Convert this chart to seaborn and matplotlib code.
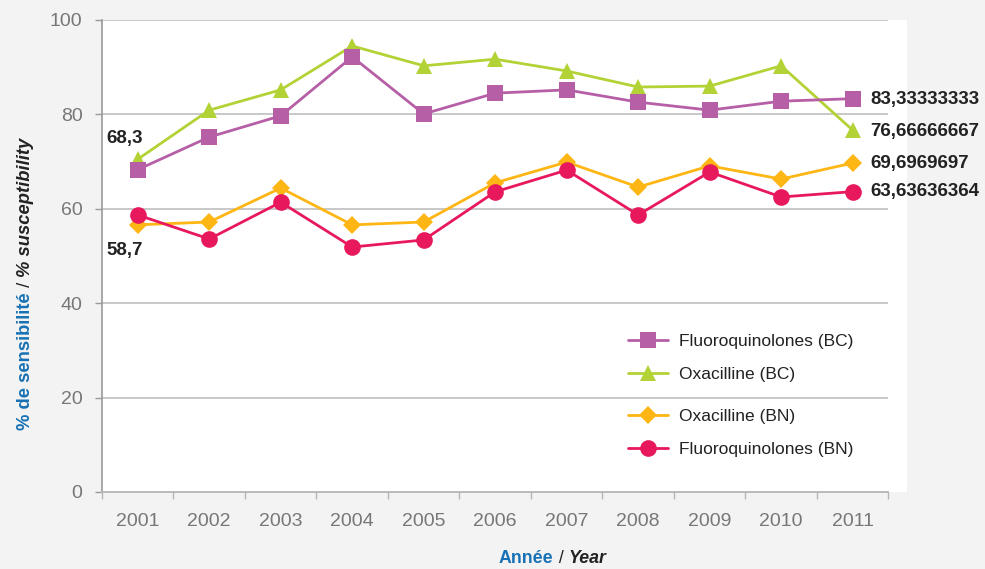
import numpy as np
import pandas as pd
import matplotlib
matplotlib.use("Agg")
import matplotlib.pyplot as plt
import seaborn as sns

# data
years = [2001, 2002, 2003, 2004, 2005, 2006, 2007, 2008, 2009, 2010, 2011]
fq_bc = [68.3, 75.2, 79.7, 92.2, 80.1, 84.5, 85.2, 82.6, 80.9, 82.8, 83.33333333]
oxa_bc = [70.5, 80.9, 85.2, 94.5, 90.3, 91.7, 89.2, 85.8, 86.0, 90.3, 76.66666667]
oxa_bn = [56.6, 57.2, 64.4, 56.6, 57.2, 65.5, 69.9, 64.6, 69.1, 66.3, 69.6969697]
fq_bn = [58.7, 53.6, 61.4, 51.9, 53.4, 63.6, 68.2, 58.7, 67.8, 62.5, 63.63636364]

series_names = ["Fluoroquinolones (BC)", "Oxacilline (BC)", "Oxacilline (BN)", "Fluoroquinolones (BN)"]
series_values = [fq_bc, oxa_bc, oxa_bn, fq_bn]
colors = ["#b65fa6", "#b3d235", "#fdb614", "#e8185d"]
markers = ["s", "^", "D", "o"]
msizes = [11, 11, 9.5, 12]
zorders = [4, 3, 5, 6]

end_labels = ["83,33333333", "76,66666667", "69,6969697", "63,63636364"]
end_label_y = [83.1, 76.3, 69.7, 63.6]

sns.set_style("white")
plt.rcParams["font.family"] = ["Liberation Sans", "DejaVu Sans"]

fig = plt.figure(figsize=(9.85, 5.69), dpi=100, facecolor="#f3f3f3")
ax = fig.add_axes([102 / 985, 77 / 569, 805 / 985, 472 / 569])
ax.set_facecolor("white")

for name, vals, c, m, ms, z in zip(series_names, series_values, colors, markers, msizes, zorders):
    df = pd.DataFrame({"year": years, "value": vals})
    sns.lineplot(data=df, x="year", y="value", ax=ax, color=c, marker=m,
                 markersize=ms, markeredgewidth=0, linewidth=2.0, label=name,
                 zorder=z)

ax.set_xlim(2000.5, 2011.76)
ax.set_ylim(0, 100)

# gridlines only over the category range
ax.hlines([20, 40, 60, 80, 100], 2000.5, 2011.5, color="#c4c4c4", lw=1.3, zorder=0)

for s in ["top", "right"]:
    ax.spines[s].set_visible(False)
ax.spines["left"].set_color("#9a9a9a")
ax.spines["bottom"].set_color("#b5b5b5")
ax.spines["bottom"].set_bounds(2000.5, 2011.5)
ax.spines["left"].set_linewidth(1.2)
ax.spines["bottom"].set_linewidth(1.3)

ax.set_yticks([0, 20, 40, 60, 80, 100])
ax.set_xticks(years)
ax.set_xticklabels([str(y) for y in years])
ax.set_xticks(np.arange(2000.5, 2012, 1), minor=True)
ax.tick_params(axis="y", length=5, width=1, color="#9a9a9a", pad=9,
               labelsize=14, labelcolor="#777777", left=True)
ax.tick_params(axis="x", which="major", length=0, pad=15,
               labelsize=14, labelcolor="#777777")
ax.tick_params(axis="x", which="minor", length=5, width=1, color="#b5b5b5", bottom=True)
ax.set_xlabel("")
ax.set_ylabel("")

# value labels
for v, lab in zip(end_label_y, end_labels):
    ax.text(2011.25, v, lab, fontsize=13.5, fontweight="bold", color="#222222",
            va="center", ha="left", clip_on=False)
ax.text(2000.82, 74.8, "68,3", fontsize=13.5, fontweight="bold", color="#222222",
        ha="center", va="center")
ax.text(2000.82, 51.1, "58,7", fontsize=13.5, fontweight="bold", color="#222222",
        ha="center", va="center")

# legend in two groups (BC above the 20 gridline, BN below)
handles, labels = ax.get_legend_handles_labels()
hmap = dict(zip(labels, handles))
leg_kw = dict(loc="upper left", bbox_transform=fig.transFigure, frameon=False,
              fontsize=12.5, handlelength=2.3, handletextpad=0.65,
              labelspacing=1.0, borderpad=0, borderaxespad=0)
leg1 = ax.legend([hmap[n] for n in series_names[:2]], series_names[:2],
                 bbox_to_anchor=(628 / 985, 1 - 334 / 569), **leg_kw)
ax.add_artist(leg1)
leg2 = ax.legend([hmap[n] for n in series_names[2:]], series_names[2:],
                 bbox_to_anchor=(628 / 985, 1 - 409 / 569), **leg_kw)
for lg in (leg1, leg2):
    for t in lg.get_texts():
        t.set_color("#222222")

# multi-style axis titles
blue = "#1771b4"
renderer = fig.canvas.get_renderer()

def draw_pieces(pieces, x, y, rotation, size):
    for text, color, style, weight in pieces:
        t = fig.text(x, y, text, color=color, fontsize=size, fontweight=weight,
                     fontstyle=style, rotation=rotation, rotation_mode="anchor",
                     ha="left", va="baseline")
        bb = t.get_window_extent(renderer).transformed(fig.transFigure.inverted())
        if rotation == 90:
            y = bb.y1
        else:
            x = bb.x1

draw_pieces([("% de sensibilité", blue, "normal", "bold"), (" / ", "#222222", "normal", "normal"),
             ("% susceptibility", "#222222", "italic", "bold")],
            30 / 985, (569 - 430) / 569, 90, 13.2)
draw_pieces([("Année", blue, "normal", "bold"), (" / ", "#222222", "normal", "normal"),
             ("Year", "#222222", "italic", "bold")],
            499 / 985, 6 / 569, 0, 12.8)

fig.savefig("out.png", dpi=100, facecolor=fig.get_facecolor())
